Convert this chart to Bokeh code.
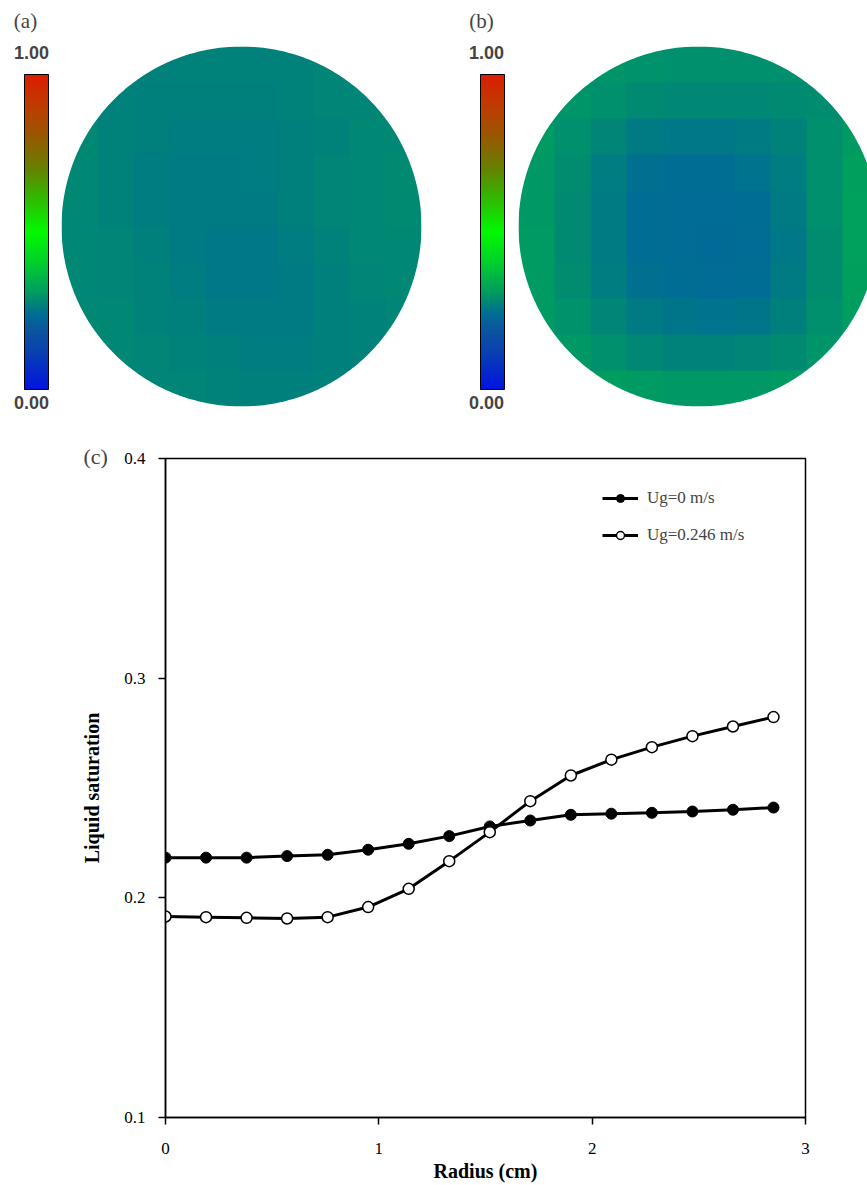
import numpy as np
from bokeh.plotting import figure
from bokeh.models import (Range1d, LinearColorMapper, ColorBar, FixedTicker, Label,
                          Legend, LegendItem)
from bokeh.layouts import column
from bokeh.embed import file_html
from bokeh.resources import INLINE

# ---------------- data ----------------
radius_cm = [0.00, 0.19, 0.38, 0.57, 0.76, 0.95, 1.14, 1.33, 1.52, 1.71, 1.90, 2.09, 2.28, 2.47, 2.66, 2.85]
sat_ug0 = [0.2183, 0.2183, 0.2183, 0.2190, 0.2196, 0.2219, 0.2246, 0.2281, 0.2325, 0.2352,
           0.2378, 0.2383, 0.2387, 0.2393, 0.2401, 0.2411]
sat_ug0246 = [0.1915, 0.1912, 0.1909, 0.1906, 0.1912, 0.1958, 0.2041, 0.2167, 0.2299, 0.2440,
              0.2557, 0.2629, 0.2686, 0.2736, 0.2780, 0.2823]
series_labels = ["Ug=0 m/s", "Ug=0.246 m/s"]
x_ticks = [0, 1, 2, 3]
y_ticks = [0.1, 0.2, 0.3, 0.4]
x_label = "Radius (cm)"
y_label = "Liquid saturation"
cbar_labels = ["1.00", "0.00"]
panel_labels = ["(a)", "(b)", "(c)"]

# cross-section maps (rows listed from top to bottom), colour scale 0..1
map_a = [
    [0.275, 0.275, 0.272, 0.270, 0.270, 0.270, 0.272, 0.275, 0.277, 0.278],
    [0.277, 0.273, 0.268, 0.266, 0.266, 0.268, 0.270, 0.274, 0.277, 0.279],
    [0.278, 0.272, 0.266, 0.262, 0.262, 0.265, 0.268, 0.273, 0.278, 0.280],
    [0.279, 0.271, 0.264, 0.259, 0.259, 0.263, 0.268, 0.275, 0.280, 0.282],
    [0.280, 0.272, 0.264, 0.259, 0.258, 0.261, 0.267, 0.276, 0.281, 0.282],
    [0.280, 0.274, 0.267, 0.261, 0.257, 0.257, 0.263, 0.272, 0.279, 0.281],
    [0.280, 0.276, 0.270, 0.264, 0.257, 0.255, 0.259, 0.268, 0.276, 0.279],
    [0.280, 0.278, 0.273, 0.267, 0.261, 0.258, 0.260, 0.266, 0.273, 0.277],
    [0.280, 0.279, 0.275, 0.271, 0.266, 0.263, 0.264, 0.268, 0.272, 0.275],
    [0.280, 0.280, 0.277, 0.274, 0.271, 0.269, 0.268, 0.270, 0.272, 0.274],
]
map_b = [
    [0.312, 0.308, 0.300, 0.294, 0.292, 0.292, 0.292, 0.290, 0.290, 0.292],
    [0.310, 0.300, 0.290, 0.282, 0.278, 0.278, 0.280, 0.282, 0.288, 0.296],
    [0.306, 0.292, 0.274, 0.260, 0.254, 0.255, 0.260, 0.272, 0.290, 0.306],
    [0.304, 0.286, 0.262, 0.246, 0.240, 0.242, 0.248, 0.264, 0.290, 0.314],
    [0.304, 0.284, 0.258, 0.240, 0.235, 0.236, 0.242, 0.260, 0.290, 0.317],
    [0.305, 0.285, 0.258, 0.240, 0.235, 0.233, 0.236, 0.255, 0.287, 0.317],
    [0.306, 0.288, 0.262, 0.245, 0.239, 0.235, 0.239, 0.258, 0.288, 0.314],
    [0.308, 0.294, 0.274, 0.258, 0.250, 0.247, 0.251, 0.268, 0.292, 0.311],
    [0.310, 0.302, 0.290, 0.280, 0.272, 0.270, 0.274, 0.285, 0.300, 0.309],
    [0.312, 0.312, 0.310, 0.306, 0.303, 0.302, 0.303, 0.305, 0.308, 0.310],
]

# ---------------- colour scale (style) ----------------
anchors = [
    (0.00, (0, 20, 225)), (0.12, (10, 65, 175)), (0.20, (10, 90, 155)),
    (0.24, (0, 110, 148)), (0.27, (0, 130, 122)), (0.31, (0, 157, 96)),
    (0.40, (0, 205, 45)), (0.50, (0, 250, 0)), (0.60, (45, 190, 0)),
    (0.70, (100, 130, 0)), (0.80, (150, 90, 0)), (0.90, (190, 60, 0)),
    (1.00, (220, 30, 0)),
]
pos = [a[0] for a in anchors]
palette = []
for t in np.linspace(0, 1, 256):
    rgb = [int(round(np.interp(t, pos, [a[1][k] for a in anchors]))) for k in range(3)]
    palette.append("#%02x%02x%02x" % tuple(rgb))
mapper = LinearColorMapper(palette=palette, low=0.0, high=1.0)

SERIF = "Liberation Serif"

# ---------------- top figure: cross sections ----------------
TOP_W, TOP_H = 867, 428
top = figure(width=TOP_W, height=TOP_H, x_range=Range1d(0, TOP_W), y_range=Range1d(0, TOP_H),
             output_backend="svg", toolbar_location=None, min_border=0, frame_align=False)
top.axis.visible = False
top.grid.visible = False
top.outline_line_color = None


def ty(page_y):
    return TOP_H - page_y


R = 180
theta = np.linspace(0, 2 * np.pi, 361)
for grid, cx, bar_x, lab_x, plab_x, plab in [(map_a, 241, 24, 31, 25, panel_labels[0]),
                                               (map_b, 698, 480, 486, 481, panel_labels[1])]:
    cy = 226
    arr = np.flipud(np.array(grid, dtype=float))
    top.image(image=[arr], x=cx - R, y=ty(cy + R), dw=2 * R, dh=2 * R, color_mapper=mapper)
    sq_x = [cx - R - 4, cx + R + 4, cx + R + 4, cx - R - 4]
    sq_y = [ty(cy - R - 4), ty(cy - R - 4), ty(cy + R + 4), ty(cy + R + 4)]
    c_x = list(cx + R * np.cos(theta))
    c_y = list(ty(cy) + R * np.sin(theta))
    top.multi_polygons(xs=[[[sq_x, c_x]]], ys=[[[sq_y, c_y]]], fill_color="white", line_color=None)

    cb = ColorBar(color_mapper=mapper, location=(bar_x, TOP_H - 389), width=24, height=315,
                  padding=0, margin=0, ticker=FixedTicker(ticks=[]), major_tick_line_color=None,
                  major_label_text_font_size="0px", bar_line_color="black", bar_line_width=1,
                  border_line_color=None, background_fill_color=None)
    top.add_layout(cb)
    top.add_layout(Label(x=lab_x, y=ty(52), text=cbar_labels[0], text_font="Liberation Sans",
                         text_font_style="bold", text_font_size="18px", text_align="center",
                         text_baseline="middle"))
    top.add_layout(Label(x=lab_x, y=ty(402), text=cbar_labels[1], text_font="Liberation Sans",
                         text_font_style="bold", text_font_size="18px", text_align="center",
                         text_baseline="middle"))
    top.add_layout(Label(x=plab_x, y=ty(20), text=plab, text_font=SERIF, text_font_size="21px",
                         text_align="center", text_baseline="middle"))

# ---------------- bottom figure: radial profiles ----------------
p = figure(frame_width=640, frame_height=659, min_border_left=165, min_border_right=62,
           min_border_top=30, min_border_bottom=66,
           x_range=Range1d(0, 3), y_range=Range1d(0.1, 0.4),
           output_backend="svg", toolbar_location=None, frame_align=False)
p.grid.visible = False
p.outline_line_color = "black"
p.outline_line_width = 1.5
p.xaxis.ticker = FixedTicker(ticks=x_ticks)
p.yaxis.ticker = FixedTicker(ticks=y_ticks)
for ax in (p.xaxis, p.yaxis):
    ax.axis_line_width = 1.5
    ax.major_tick_line_width = 1.5
    ax.major_tick_out = 7
    ax.major_tick_in = 0
    ax.minor_tick_line_color = None
    ax.major_label_text_font = SERIF
    ax.major_label_text_font_size = "17px"
    ax.major_label_text_color = "black"
    ax.axis_label_text_font = SERIF
    ax.axis_label_text_font_style = "bold"
    ax.axis_label_text_font_size = "20px"
    ax.axis_label_text_color = "black"
p.xaxis.axis_label = x_label
p.yaxis.axis_label = y_label
p.xaxis.major_label_standoff = 18
p.xaxis.axis_label_standoff = 3
p.yaxis.major_label_standoff = 13
p.yaxis.axis_label_standoff = 18

# panel label "(c)" as the plot title, pulled to the left of the axis
p.title.text = panel_labels[2]
p.title.align = "left"
p.title.offset = -82
p.title.standoff = -20
p.title.text_font = SERIF
p.title.text_font_style = "normal"
p.title.text_font_size = "22px"

l1 = p.line(radius_cm, sat_ug0, line_width=3, line_color="black")
s1 = p.scatter(radius_cm, sat_ug0, size=11, fill_color="black", line_color="black", line_width=1)
l2 = p.line(radius_cm, sat_ug0246, line_width=3, line_color="black")
s2 = p.scatter(radius_cm, sat_ug0246, size=11, fill_color="white", line_color="black", line_width=1.5)

legend = Legend(items=[LegendItem(label=series_labels[0], renderers=[l1, s1]),
                       LegendItem(label=series_labels[1], renderers=[l2, s2])],
                location=(437, 572), padding=0, margin=0, spacing=17, glyph_width=36,
                glyph_height=20, label_height=20, label_standoff=9,
                label_text_font=SERIF, label_text_font_size="17px",
                border_line_color=None, background_fill_alpha=0)
p.add_layout(legend)

layout = column(top, p, spacing=0)
open("out.html", "w").write(file_html(layout, INLINE))
